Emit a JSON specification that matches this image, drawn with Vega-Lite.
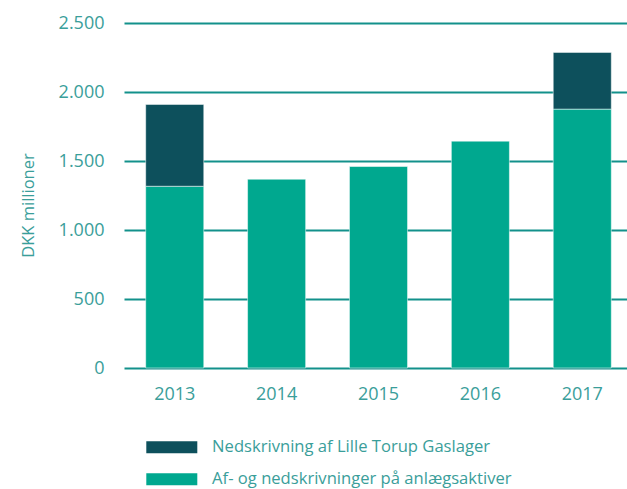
{
  "$schema": "https://vega.github.io/schema/vega-lite/v6.json",
  "autosize": "none",
  "padding": {"left": 124, "top": 23, "right": 0, "bottom": 121},
  "width": 509,
  "height": 345,
  "background": "white",
  "config": {
    "view": {"stroke": null},
    "font": "Open Sans"
  },
  "data": {
    "values": [
      {"year": "2013", "series": "Af- og nedskrivninger på anlægsaktiver", "value": 1317},
      {"year": "2013", "series": "Nedskrivning af Lille Torup Gaslager", "value": 593},
      {"year": "2014", "series": "Af- og nedskrivninger på anlægsaktiver", "value": 1368},
      {"year": "2015", "series": "Af- og nedskrivninger på anlægsaktiver", "value": 1460},
      {"year": "2016", "series": "Af- og nedskrivninger på anlægsaktiver", "value": 1644},
      {"year": "2017", "series": "Af- og nedskrivninger på anlægsaktiver", "value": 1876},
      {"year": "2017", "series": "Nedskrivning af Lille Torup Gaslager", "value": 411}
    ]
  },
  "mark": {"type": "bar", "stroke": "#ffffff", "strokeWidth": 1, "strokeOpacity": 0.5},
  "encoding": {
    "x": {
      "field": "year",
      "type": "nominal",
      "scale": {"paddingInner": 0.43, "paddingOuter": 0.213},
      "axis": {
        "title": null,
        "labelAngle": 0,
        "domain": false,
        "ticks": false,
        "labelFontSize": 18,
        "labelColor": "#3a9e9a",
        "labelPadding": 17
      }
    },
    "y": {
      "field": "value",
      "type": "quantitative",
      "stack": "zero",
      "scale": {"domain": [0, 2500], "nice": false},
      "axis": {
        "values": [0, 500, 1000, 1500, 2000, 2500],
        "labelExpr": "replace(format(datum.value, ','), ',', '.')",
        "title": "DKK millioner",
        "titleFontSize": 16.5,
        "titleFontWeight": "normal",
        "titleColor": "#3a9e9a",
        "titlePadding": 22,
        "titleY": 182,
        "labelFontSize": 18,
        "labelColor": "#3a9e9a",
        "labelPadding": 20,
        "domain": false,
        "ticks": false,
        "grid": true,
        "gridColor": "#13918b",
        "gridWidth": 2,
        "gridOpacity": 1
      }
    },
    "color": {
      "field": "series",
      "type": "nominal",
      "scale": {
        "domain": ["Nedskrivning af Lille Torup Gaslager", "Af- og nedskrivninger på anlægsaktiver"],
        "range": ["#0d505c", "#00a88f"]
      },
      "legend": {
        "title": null,
        "orient": "none",
        "legendX": 39.5,
        "legendY": 416,
        "direction": "vertical",
        "symbolType": "M-4.25,-1H4.25V1H-4.25Z",
        "symbolSize": 144,
        "symbolStrokeWidth": 0,
        "symbolOpacity": 1,
        "labelFontSize": 16.6,
        "labelColor": "#3a9e9a",
        "labelOffset": 32,
        "labelLimit": 500,
        "rowPadding": 15
      }
    },
    "order": {"field": "series", "sort": "ascending"}
  }
}
